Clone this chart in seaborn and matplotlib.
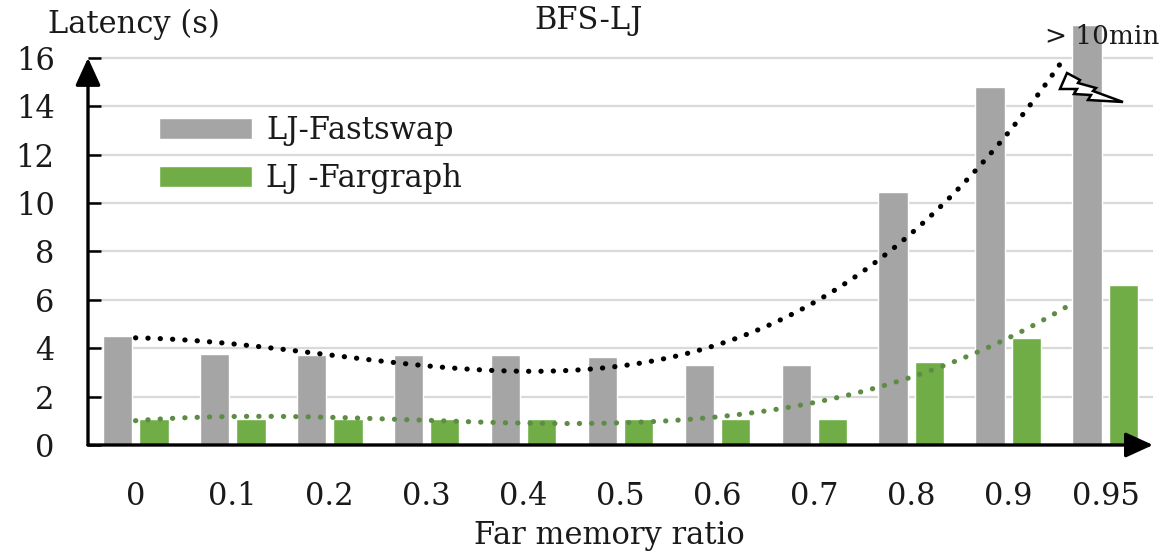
import numpy as np
import pandas as pd
import matplotlib
matplotlib.use("Agg")
import matplotlib.pyplot as plt
from matplotlib.patches import Patch, Polygon, Rectangle
import seaborn as sns

# Far memory ratios (category labels) and measured latencies in seconds
ratios = ["0", "0.1", "0.2", "0.3", "0.4", "0.5", "0.6", "0.7", "0.8", "0.9", "0.95"]
fastswap = [4.49, 3.78, 3.72, 3.72, 3.70, 3.63, 3.31, 3.30, 10.45, 14.80, 17.35]
fargraph = [1.07, 1.07, 1.07, 1.07, 1.07, 1.07, 1.07, 1.07, 3.43, 4.42, 6.63]
series_names = ["LJ-Fastswap", "LJ -Fargraph"]
y_ticks = [0, 2, 4, 6, 8, 10, 12, 14, 16]

GRAY = "#A5A5A5"
GREEN = "#70AD47"
TEXT = "#1a1a1a"
FS = 22

sns.set_theme(style="white")
plt.rcParams["font.family"] = ["DejaVu Serif"]

df = pd.DataFrame({
    "ratio": ratios * 2,
    "latency": fastswap + fargraph,
    "series": [series_names[0]] * len(ratios) + [series_names[1]] * len(ratios),
})

fig = plt.figure(figsize=(11.66, 5.54), dpi=100)
ax = fig.add_axes([88 / 1166, 1 - 445 / 554, (1153 - 88) / 1166, (445 - 24) / 554])

sns.barplot(data=df, x="ratio", y="latency", hue="series", order=ratios,
            hue_order=series_names, palette=[GRAY, GREEN], width=0.76, gap=0.21,
            saturation=1, ax=ax, legend=False, zorder=2)
# the off-scale (> 10 min) bar sits above the trend lines
ax.containers[0][-1].set_zorder(5)

xmin, xmax, ytop = -0.49, 10.49, 16
ax.set_xlim(xmin, xmax)
ax.set_ylim(0, 17.4)

# Horizontal gridlines
for t in y_ticks[1:]:
    ax.axhline(t, color="#d9d9d9", lw=1.6, zorder=0)

for s in ax.spines.values():
    s.set_visible(False)

# Cubic trend lines over the category positions, clipped at the top of the scale
clip = Rectangle((xmin, 0), xmax - xmin, ytop, transform=ax.transData)
pos = np.arange(len(ratios))
xs = np.linspace(0, len(ratios) - 1, 300)
for vals, col in [(fastswap, "black"), (fargraph, "#5e8c46")]:
    coef = np.polyfit(pos, vals, 3)
    line, = ax.plot(xs, np.polyval(coef, xs), color=col, lw=3.7,
                    linestyle=(0, (0.05, 2.35)), dash_capstyle="round", zorder=4)
    line.set_clip_path(clip)

# Axis arrows
arrow = dict(arrowstyle="-|>,head_length=1.05,head_width=0.48", color="black",
             lw=2.4, shrinkA=0, shrinkB=0, mutation_scale=16)
ax.annotate("", xy=(xmin, ytop), xytext=(xmin, 0), arrowprops=arrow,
            annotation_clip=False, zorder=6)
ax.annotate("", xy=(xmax, 0), xytext=(xmin, 0), arrowprops=arrow,
            annotation_clip=False, zorder=6)

ax.set_yticks(y_ticks)
ax.set_yticklabels([str(t) for t in y_ticks])
ax.tick_params(axis="y", direction="in", length=9, width=1.8, color="black",
               pad=24, labelsize=FS, labelcolor=TEXT, left=True)
ax.tick_params(axis="x", length=0, pad=26, labelsize=FS, labelcolor=TEXT)
ax.set_xlabel("Far memory ratio", fontsize=FS, color=TEXT)
ax.xaxis.set_label_coords(0.49, -0.178)
ax.set_ylabel("")

fig.text(48 / 1166, 1 - 24 / 554, "Latency (s)", fontsize=FS, color=TEXT,
         ha="left", va="center")
fig.text(589 / 1166, 1 - 21 / 554, "BFS-LJ", fontsize=FS, color=TEXT,
         ha="center", va="center")
fig.text(1045 / 1166, 1 - 36 / 554, "> 10min", fontsize=19, color=TEXT,
         ha="left", va="center", zorder=8)

# Break mark on the truncated bar
bolt_px = [(1067, 73), (1060, 89), (1077, 89), (1074, 94), (1091, 95), (1088, 100),
           (1123, 102), (1093, 91), (1096, 88), (1078, 83), (1080, 80)]
bolt = Polygon([(x / 1166, 1 - y / 554) for x, y in bolt_px], closed=True,
               transform=fig.transFigure, facecolor="white", edgecolor="black",
               lw=1.8, joinstyle="miter", zorder=7)
fig.patches.append(bolt)

handles = [Patch(facecolor=GRAY, label=series_names[0]),
           Patch(facecolor=GREEN, label=series_names[1])]
leg = ax.legend(handles=handles, loc="upper left",
                bbox_to_anchor=(150 / 1166, 1 - 106 / 554), bbox_transform=fig.transFigure,
                frameon=False, fontsize=FS, handlelength=3.05, handleheight=0.68,
                handletextpad=0.45, labelspacing=0.55, borderpad=0.3, borderaxespad=0)
for t in leg.get_texts():
    t.set_color(TEXT)

fig.savefig("out.png", dpi=100)
